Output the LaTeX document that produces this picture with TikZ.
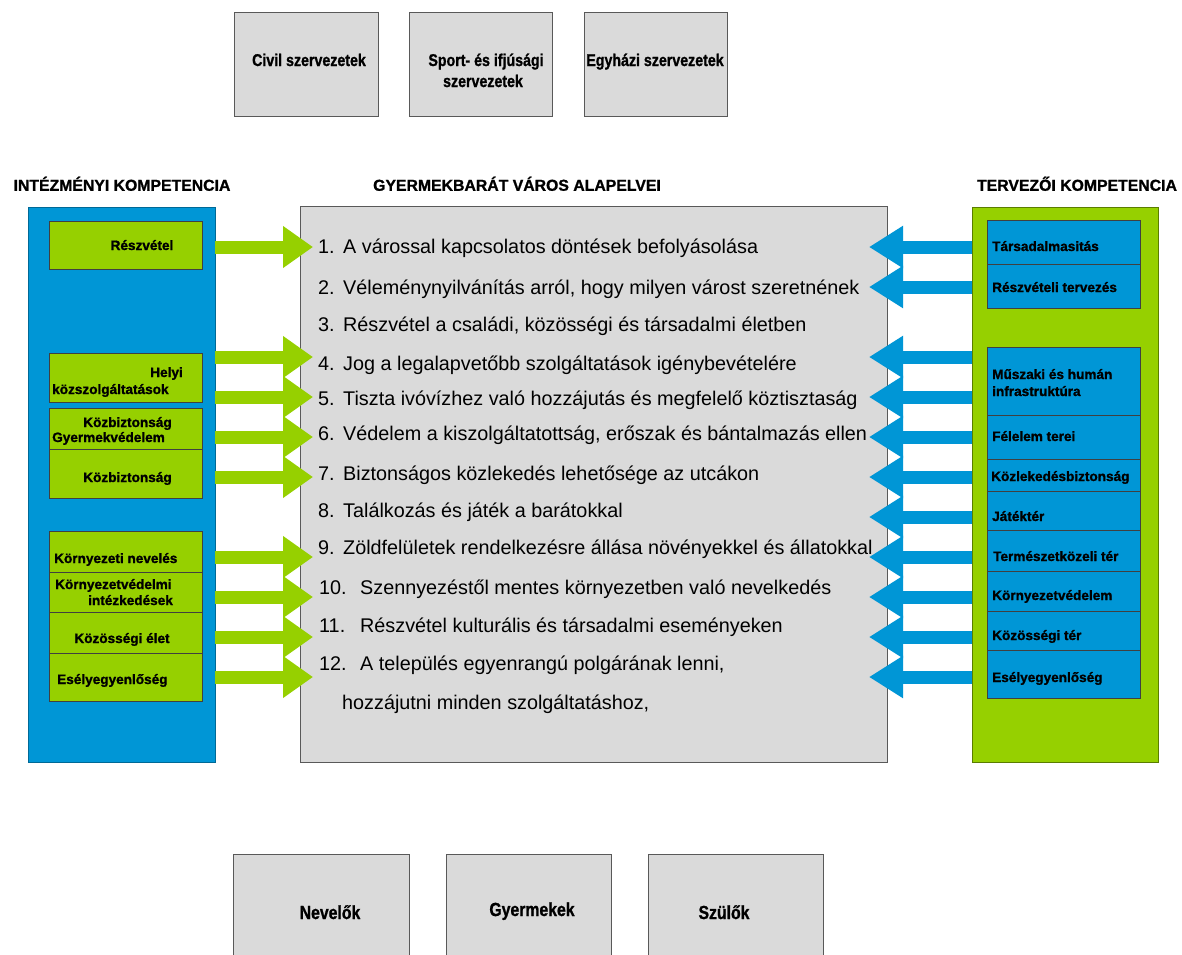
\documentclass[tikz,border=0pt]{standalone}
\usepackage{fontspec}
\usepackage{graphicx}
\setmainfont{Liberation Sans}
\newfontfamily\heavyfont[BoldFeatures={FakeBold=1.2}]{Liberation Sans}
\usetikzlibrary{arrows.meta}
\definecolor{cblue}{RGB}{0,150,214}
\definecolor{cgreen}{RGB}{150,208,0}
\definecolor{cgray}{RGB}{218,218,218}
\definecolor{cedge}{RGB}{70,70,70}
\newcommand\tallish[1]{\scalebox{1}[1.2]{#1}}
\begin{document}
\begin{tikzpicture}[x=1pt,y=-1pt,
  box/.style={draw=cedge, line width=1pt, inner sep=0pt, outer sep=0pt, anchor=north west},
  gbox/.style={box, fill=cgreen, draw=black!75},
  bbox/.style={box, fill=cblue, draw=black!75},
  graybox/.style={box, fill=cgray, draw=black!65},
  panelL/.style={box, fill=cblue, draw=cblue!70!black},
  panelR/.style={box, fill=cgreen, draw=cgreen!60!black},
  lab/.style={inner sep=0pt, font=\heavyfont\fontsize{13.6}{16}\selectfont\bfseries, text height=10pt, text depth=0pt},
  orgtxt/.style={inner sep=0pt, font=\heavyfont\fontsize{14.2}{16}\selectfont\bfseries},
  famtxt/.style={inner sep=0pt, font=\heavyfont\fontsize{15.8}{18}\selectfont\bfseries},
  hdr/.style={inner sep=0pt, font=\heavyfont\fontsize{15.8}{18}\selectfont\bfseries, text height=11.5pt, text depth=0pt},
  ln/.style={inner sep=0pt, anchor=west, font=\fontsize{19.8}{22}\selectfont, text height=14.2pt, text depth=0pt},
  garr/.style={line width=13pt, draw=cgreen, -{Triangle[length=30pt 0 0,width=40pt 0 0]}},
  barr/.style={line width=13pt, draw=cblue, -{Triangle[length=34pt 0 0,width=40pt 0 0]}}
]
\useasboundingbox (0,0) rectangle (1182,954);

% top boxes
\node[graybox, minimum width=144pt, minimum height=104pt] (civil) at (234,12) {};
\node[graybox, minimum width=143pt, minimum height=104pt] (sport) at (409,12) {};
\node[graybox, minimum width=143pt, minimum height=104pt] (egyh) at (584,12) {};
\node[orgtxt, anchor=base] at (309,66) {\tallish{Civil szervezetek}};
\node[orgtxt, anchor=base] at (486,66) {\tallish{Sport- és ifjúsági}};
\node[orgtxt, anchor=base] at (483,87) {\tallish{szervezetek}};
\node[orgtxt, anchor=base] at (655,66) {\tallish{Egyházi szervezetek}};

% headers
\node[hdr] at (122,185) {INTÉZMÉNYI KOMPETENCIA};
\node[hdr] at (517,185) {GYERMEKBARÁT VÁROS ALAPELVEI};
\node[hdr] at (1077,185) {TERVEZŐI KOMPETENCIA};

% panels
\node[panelL, minimum width=187pt, minimum height=555pt] (lp) at (28,207) {};
\node[graybox, minimum width=587pt, minimum height=556pt] (mid) at (300,206) {};
\node[panelR, minimum width=186pt, minimum height=555pt] (rp) at (972,207) {};

% left green boxes
\node[gbox, minimum width=153pt, minimum height=48pt] (l1) at (49,221) {};
\node[gbox, minimum width=153pt, minimum height=49pt] (l2) at (49,353) {};
\node[gbox, minimum width=153pt, minimum height=41pt] (l3) at (49,408) {};
\node[gbox, minimum width=153pt, minimum height=49pt] (l4) at (49,449) {};
\node[gbox, minimum width=153pt, minimum height=41pt] (l5) at (49,531) {};
\node[gbox, minimum width=153pt, minimum height=40pt] (l6) at (49,572) {};
\node[gbox, minimum width=153pt, minimum height=41pt] (l7) at (49,612) {};
\node[gbox, minimum width=153pt, minimum height=48pt] (l8) at (49,653) {};

\node[lab] at (142,245) {Részvétel};
\node[lab, anchor=east] at (183,372) {Helyi};
\node[lab, anchor=west] at (52,389) {közszolgáltatások};
\node[lab] at (127.5,422) {Közbiztonság};
\node[lab, anchor=west] at (52,437) {Gyermekvédelem};
\node[lab] at (127.5,477) {Közbiztonság};
\node[lab, anchor=west] at (54,558) {Környezeti nevelés};
\node[lab, anchor=west] at (55,584) {Környezetvédelmi};
\node[lab, anchor=west] at (88,600) {intézkedések};
\node[lab] at (122,638) {Közösségi élet};
\node[lab, anchor=west] at (57,679) {Esélyegyenlőség};

% right blue boxes
\node[bbox, minimum width=153pt, minimum height=44pt] (r1) at (987,220) {};
\node[bbox, minimum width=153pt, minimum height=44pt] (r2) at (987,264) {};
\node[bbox, minimum width=153pt, minimum height=68pt] (r3) at (987,347) {};
\node[bbox, minimum width=153pt, minimum height=44pt] (r4) at (987,415) {};
\node[bbox, minimum width=153pt, minimum height=32pt] (r5) at (987,459) {};
\node[bbox, minimum width=153pt, minimum height=39pt] (r6) at (987,491) {};
\node[bbox, minimum width=153pt, minimum height=41pt] (r7) at (987,530) {};
\node[bbox, minimum width=153pt, minimum height=40pt] (r8) at (987,571) {};
\node[bbox, minimum width=153pt, minimum height=39pt] (r9) at (987,611) {};
\node[bbox, minimum width=153pt, minimum height=48pt] (r10) at (987,650) {};

\node[lab, anchor=west] at (992,246) {Társadalmasitás};
\node[lab, anchor=west] at (992,287) {Részvételi tervezés};
\node[lab, anchor=west] at (992,374) {Műszaki és humán};
\node[lab, anchor=west] at (992,391) {infrastruktúra};
\node[lab, anchor=west] at (992,436) {Félelem terei};
\node[lab, anchor=west] at (991,476) {Közlekedésbiztonság};
\node[lab, anchor=west] at (992,516) {Játéktér};
\node[lab, anchor=west] at (993,556) {Természetközeli tér};
\node[lab, anchor=west] at (992,595) {Környezetvédelem};
\node[lab, anchor=west] at (992,635) {Közösségi tér};
\node[lab, anchor=west] at (992,677) {Esélyegyenlőség};

% list of principles
\node[ln] (t1) at (318,246) {\makebox[25pt][l]{1.}A várossal kapcsolatos döntések befolyásolása};
\node[ln] (t2) at (318,287) {\makebox[25pt][l]{2.}Véleménynyilvánítás arról, hogy milyen várost szeretnének};
\node[ln] (t3) at (318,324) {\makebox[25pt][l]{3.}Részvétel a családi, közösségi és társadalmi életben};
\node[ln] (t4) at (318,363) {\makebox[25pt][l]{4.}Jog a legalapvetőbb szolgáltatások igénybevételére};
\node[ln] (t5) at (318,398) {\makebox[25pt][l]{5.}Tiszta ivóvízhez való hozzájutás és megfelelő köztisztaság};
\node[ln] (t6) at (318,433) {\makebox[25pt][l]{6.}Védelem a kiszolgáltatottság, erőszak és bántalmazás ellen};
\node[ln] (t7) at (318,473) {\makebox[25pt][l]{7.}Biztonságos közlekedés lehetősége az utcákon};
\node[ln] (t8) at (318,510) {\makebox[25pt][l]{8.}Találkozás és játék a barátokkal};
\node[ln] (t9) at (318,547) {\makebox[25pt][l]{9.}Zöldfelületek rendelkezésre állása növényekkel és állatokkal};
\node[ln] (t10) at (319,587) {\makebox[41pt][l]{10.}Szennyezéstől mentes környezetben való nevelkedés};
\node[ln] (t11) at (319,625) {\makebox[41pt][l]{11.}Részvétel kulturális és társadalmi eseményeken};
\node[ln] (t12) at (319,663) {\makebox[41pt][l]{12.}A település egyenrangú polgárának lenni,};
\node[ln] (t13) at (342,702) {hozzájutni minden szolgáltatáshoz,};

% bottom boxes
\node[graybox, minimum width=176pt, minimum height=110pt] (nev) at (233,854) {};
\node[graybox, minimum width=165pt, minimum height=110pt] (gyer) at (446,854) {};
\node[graybox, minimum width=175pt, minimum height=110pt] (szul) at (648,854) {};
\node[famtxt, anchor=base] at (330,919) {\tallish{Nevelők}};
\node[famtxt, anchor=base] at (532,916) {\tallish{Gyermekek}};
\node[famtxt, anchor=base] at (724,919) {\tallish{Szülők}};

% green arrows (left)
\foreach \y [count=\i] in {247,357,397,437,477,557,597,637,677}{
  \coordinate (gs\i) at (215,\y);
  \coordinate (ge\i) at (313,\y);
  \draw[garr] (gs\i) -- (ge\i);
}
% blue arrows (right)
\foreach \y [count=\i] in {247,287,357,397,437,477,517,557,597,637,677}{
  \coordinate (bs\i) at (972,\y);
  \coordinate (be\i) at (869,\y);
  \draw[barr] (bs\i) -- (be\i);
}
\end{tikzpicture}
\end{document}
